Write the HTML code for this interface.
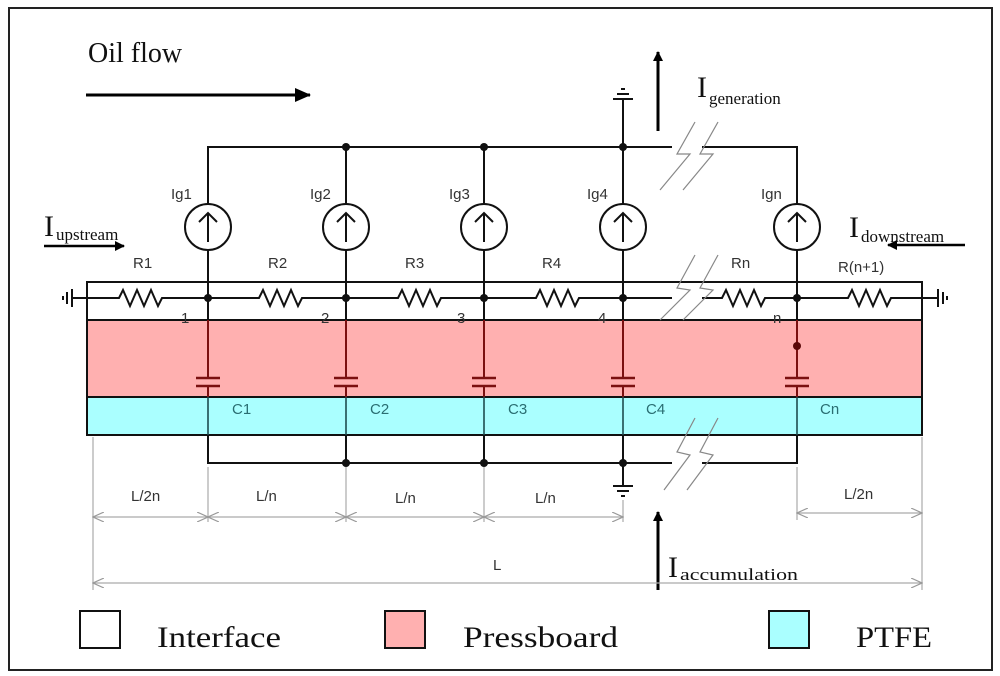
<!DOCTYPE html>
<html><head><meta charset="utf-8"><style>
html,body{margin:0;padding:0;background:#fff}
svg{display:block}
.a{font-family:"Liberation Sans",sans-serif;font-size:15px;fill:#333}
.c{font-family:"Liberation Sans",sans-serif;font-size:15px;fill:#2a6e72}
.s{font-family:"Liberation Serif",serif;fill:#111}
</style></head><body>
<svg width="1000" height="676" viewBox="0 0 1000 676" xmlns="http://www.w3.org/2000/svg">
<defs>
<marker id="ah" markerWidth="10" markerHeight="10" refX="9" refY="5" orient="auto" markerUnits="userSpaceOnUse"><path d="M0,0 L10,5 L0,10 z" fill="#000"/></marker>
<marker id="ahb" markerWidth="16" markerHeight="14" refX="15" refY="7" orient="auto" markerUnits="userSpaceOnUse"><path d="M0,0 L16,7 L0,14 z" fill="#000"/></marker>
<marker id="g1" markerWidth="12" markerHeight="10" refX="11" refY="5" orient="auto" markerUnits="userSpaceOnUse"><path d="M0,0 L11,5 L0,10" fill="none" stroke="#999" stroke-width="1.2"/></marker>
<marker id="g0" markerWidth="12" markerHeight="10" refX="1" refY="5" orient="auto" markerUnits="userSpaceOnUse"><path d="M12,0 L1,5 L12,10" fill="none" stroke="#999" stroke-width="1.2"/></marker>
</defs>
<rect x="9" y="8" width="983" height="662" fill="none" stroke="#222" stroke-width="2"/>

<!-- layers -->
<rect x="87" y="282" width="835" height="38" fill="#fff" stroke="#111" stroke-width="2"/>
<rect x="87" y="320" width="835" height="77" fill="#ffb0b0" stroke="#111" stroke-width="2"/>
<rect x="87" y="397" width="835" height="38" fill="#aaffff" stroke="#111" stroke-width="2"/>

<!-- Oil flow -->
<text x="88" y="62" class="s" font-size="28">Oil flow</text>
<line x1="86" y1="95" x2="310" y2="95" stroke="#000" stroke-width="3" marker-end="url(#ahb)"/>

<!-- top bus -->
<g stroke="#111" stroke-width="2" fill="none">
<polyline points="208,282 208,147 797,147 797,282"/>
<line x1="346" y1="147" x2="346" y2="282"/>
<line x1="484" y1="147" x2="484" y2="282"/>
<line x1="623" y1="100" x2="623" y2="282"/>
<!-- bottom bus -->
<polyline points="208,435 208,463 797,463 797,435"/>
<line x1="346" y1="435" x2="346" y2="463"/>
<line x1="484" y1="435" x2="484" y2="463"/>
<line x1="623" y1="435" x2="623" y2="485"/>
<!-- lines through interface -->
<line x1="208" y1="282" x2="208" y2="320"/><line x1="346" y1="282" x2="346" y2="320"/>
<line x1="484" y1="282" x2="484" y2="320"/><line x1="623" y1="282" x2="623" y2="320"/>
<line x1="797" y1="282" x2="797" y2="320"/>
</g>
<!-- caps -->
<g stroke="#7a1010" stroke-width="2">
<line x1="208" y1="320" x2="208" y2="378"/><line x1="346" y1="320" x2="346" y2="378"/><line x1="484" y1="320" x2="484" y2="378"/><line x1="623" y1="320" x2="623" y2="378"/><line x1="797" y1="320" x2="797" y2="378"/>
<line x1="208" y1="386" x2="208" y2="397"/><line x1="346" y1="386" x2="346" y2="397"/><line x1="484" y1="386" x2="484" y2="397"/><line x1="623" y1="386" x2="623" y2="397"/><line x1="797" y1="386" x2="797" y2="397"/>
<g stroke-width="2.5">
<line x1="196" y1="378" x2="220" y2="378"/><line x1="196" y1="386" x2="220" y2="386"/>
<line x1="334" y1="378" x2="358" y2="378"/><line x1="334" y1="386" x2="358" y2="386"/>
<line x1="472" y1="378" x2="496" y2="378"/><line x1="472" y1="386" x2="496" y2="386"/>
<line x1="611" y1="378" x2="635" y2="378"/><line x1="611" y1="386" x2="635" y2="386"/>
<line x1="785" y1="378" x2="809" y2="378"/><line x1="785" y1="386" x2="809" y2="386"/>
</g></g>
<circle cx="797" cy="346" r="4" fill="#5a0808"/>
<g stroke="#1d4d50" stroke-width="1.6">
<line x1="208" y1="397" x2="208" y2="435"/><line x1="346" y1="397" x2="346" y2="435"/><line x1="484" y1="397" x2="484" y2="435"/><line x1="623" y1="397" x2="623" y2="435"/><line x1="797" y1="397" x2="797" y2="435"/>
</g>

<!-- sources -->
<g stroke="#111" stroke-width="2" fill="#fff">
<circle cx="208" cy="227" r="23"/><circle cx="346" cy="227" r="23"/><circle cx="484" cy="227" r="23"/><circle cx="623" cy="227" r="23"/><circle cx="797" cy="227" r="23"/>
</g>
<g stroke="#111" stroke-width="2" fill="none">
<path d="M208,242 V213 M199,222 L208,213 L217,222"/>
<path d="M346,242 V213 M337,222 L346,213 L355,222"/>
<path d="M484,242 V213 M475,222 L484,213 L493,222"/>
<path d="M623,242 V213 M614,222 L623,213 L632,222"/>
<path d="M797,242 V213 M788,222 L797,213 L806,222"/>
</g>

<!-- resistor line -->
<g stroke="#111" stroke-width="2" fill="none">
<polyline points="72,298 119,298 123,290 130,306 137,290 144,306 151,290 158,306 162,298 208,298"/>
<polyline points="208,298 259,298 263,290 270,306 277,290 284,306 291,290 298,306 302,298 346,298"/>
<polyline points="346,298 398,298 402,290 409,306 416,290 423,306 430,290 437,306 441,298 484,298"/>
<polyline points="484,298 536,298 540,290 547,306 554,290 561,306 568,290 575,306 579,298 623,298"/>
<polyline points="623,298 722,298 726,290 733,306 740,290 747,306 754,290 761,306 765,298 797,298"/>
<polyline points="797,298 848,298 852,290 859,306 866,290 873,306 880,290 887,306 891,298 938,298"/>
<!-- grounds sideways -->
<line x1="72" y1="289" x2="72" y2="307"/><line x1="67" y1="292" x2="67" y2="304"/><line x1="63" y1="296" x2="63" y2="300"/>
<line x1="938" y1="289" x2="938" y2="307"/><line x1="943" y1="292" x2="943" y2="304"/><line x1="947" y1="296" x2="947" y2="300"/>
<!-- top ground -->
<line x1="613" y1="99" x2="633" y2="99"/><line x1="617" y1="94" x2="629" y2="94"/><line x1="621" y1="89" x2="625" y2="89"/>
<!-- bottom ground -->
<line x1="613" y1="486" x2="633" y2="486"/><line x1="617" y1="491" x2="629" y2="491"/><line x1="621" y1="496" x2="625" y2="496"/>
</g>
<g fill="#111">
<circle cx="208" cy="298" r="4"/><circle cx="346" cy="298" r="4"/><circle cx="484" cy="298" r="4"/><circle cx="623" cy="298" r="4"/><circle cx="797" cy="298" r="4"/>
<circle cx="346" cy="147" r="4"/><circle cx="484" cy="147" r="4"/><circle cx="623" cy="147" r="4"/>
<circle cx="346" cy="463" r="4"/><circle cx="484" cy="463" r="4"/><circle cx="623" cy="463" r="4"/>
</g>

<!-- break marks (white gaps + gray slashes) -->
<g>
<rect x="672" y="143" width="30" height="8" fill="#fff"/>
<rect x="672" y="294" width="30" height="8" fill="#fff"/>
<rect x="672" y="459" width="30" height="8" fill="#fff"/>
<g stroke="#888" stroke-width="1.2" fill="none">
<polyline points="695,122 677,154 690,154 660,190"/><polyline points="718,122 700,154 713,154 683,190"/>
<polyline points="695,255 677,288 690,290 660,320"/><polyline points="718,255 700,288 713,290 683,320"/>
<polyline points="695,418 677,452 690,455 664,490"/><polyline points="718,418 700,452 713,455 687,490"/>
</g></g>

<!-- labels -->
<text class="a" x="171" y="199">Ig1</text><text class="a" x="310" y="199">Ig2</text><text class="a" x="449" y="199">Ig3</text><text class="a" x="587" y="199">Ig4</text><text class="a" x="761" y="199">Ign</text>
<text class="a" x="133" y="268">R1</text><text class="a" x="268" y="268">R2</text><text class="a" x="405" y="268">R3</text><text class="a" x="542" y="268">R4</text><text class="a" x="731" y="268">Rn</text><text class="a" x="838" y="272">R(n+1)</text>
<text class="a" x="181" y="323">1</text><text class="a" x="321" y="323">2</text><text class="a" x="457" y="323">3</text><text class="a" x="598" y="323">4</text><text class="a" x="773" y="323">n</text>
<text class="c" x="232" y="414">C1</text><text class="c" x="370" y="414">C2</text><text class="c" x="508" y="414">C3</text><text class="c" x="646" y="414">C4</text><text class="c" x="820" y="414">Cn</text>

<!-- currents -->
<text class="s" x="44" y="236" font-size="30">I</text><text class="s" x="56" y="240" font-size="17">upstream</text>
<line x1="44" y1="246" x2="124" y2="246" stroke="#000" stroke-width="2.5" marker-end="url(#ah)"/>
<text class="s" x="849" y="237" font-size="30">I</text><text class="s" x="861" y="242" font-size="17">downstream</text>
<line x1="965" y1="245" x2="888" y2="245" stroke="#000" stroke-width="2.5" marker-end="url(#ah)"/>
<line x1="658" y1="131" x2="658" y2="52" stroke="#000" stroke-width="3" marker-end="url(#ah)"/>
<text class="s" x="697" y="97" font-size="30">I</text><text class="s" x="709" y="104" font-size="17">generation</text>
<line x1="658" y1="590" x2="658" y2="512" stroke="#000" stroke-width="3" marker-end="url(#ah)"/>
<text class="s" x="668" y="577" font-size="30">I</text><text class="s" x="680" y="580" font-size="17" textLength="118" lengthAdjust="spacingAndGlyphs">accumulation</text>

<!-- dimensions -->
<g stroke="#aaa" stroke-width="1.2">
<line x1="93" y1="437" x2="93" y2="590"/><line x1="208" y1="467" x2="208" y2="522"/><line x1="346" y1="467" x2="346" y2="522"/><line x1="484" y1="467" x2="484" y2="522"/><line x1="623" y1="500" x2="623" y2="522"/><line x1="797" y1="467" x2="797" y2="520"/><line x1="922" y1="437" x2="922" y2="590"/>
<line x1="93" y1="517" x2="208" y2="517" marker-start="url(#g0)" marker-end="url(#g1)"/>
<line x1="208" y1="517" x2="346" y2="517" marker-start="url(#g0)" marker-end="url(#g1)"/>
<line x1="346" y1="517" x2="484" y2="517" marker-start="url(#g0)" marker-end="url(#g1)"/>
<line x1="484" y1="517" x2="623" y2="517" marker-start="url(#g0)" marker-end="url(#g1)"/>
<line x1="797" y1="513" x2="922" y2="513" marker-start="url(#g0)" marker-end="url(#g1)"/>
<line x1="93" y1="583" x2="922" y2="583" marker-start="url(#g0)" marker-end="url(#g1)"/>
</g>
<text class="a" x="131" y="501">L/2n</text><text class="a" x="256" y="501">L/n</text><text class="a" x="395" y="503">L/n</text><text class="a" x="535" y="503">L/n</text><text class="a" x="844" y="499">L/2n</text><text class="a" x="493" y="570">L</text>

<!-- legend -->
<rect x="80" y="611" width="40" height="37" fill="#fff" stroke="#111" stroke-width="2"/>
<rect x="385" y="611" width="40" height="37" fill="#ffb0b0" stroke="#111" stroke-width="2"/>
<rect x="769" y="611" width="40" height="37" fill="#aaffff" stroke="#111" stroke-width="2"/>
<text class="s" x="157" y="647" font-size="30" textLength="124" lengthAdjust="spacingAndGlyphs">Interface</text>
<text class="s" x="463" y="647" font-size="30" textLength="155" lengthAdjust="spacingAndGlyphs">Pressboard</text>
<text class="s" x="856" y="647" font-size="30" textLength="76" lengthAdjust="spacingAndGlyphs">PTFE</text>
</svg>
</body></html>
